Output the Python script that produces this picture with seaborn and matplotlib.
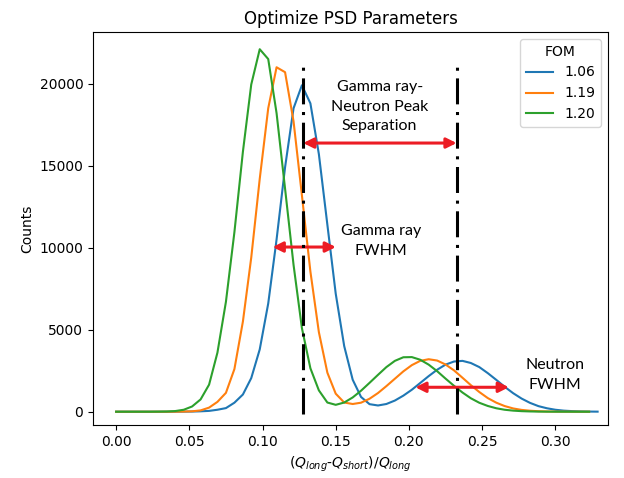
import matplotlib.pyplot as plt
import pandas as pd
import seaborn as sns

# bin positions of the PSD ratio histogram
qratio = [0.0000, 0.0058, 0.0115, 0.0173, 0.0231, 0.0289, 0.0346, 0.0404, 0.0462, 0.0519,
          0.0577, 0.0635, 0.0692, 0.0750, 0.0808, 0.0866, 0.0923, 0.0981, 0.1039, 0.1096,
          0.1154, 0.1212, 0.1269, 0.1327, 0.1385, 0.1443, 0.1500, 0.1558, 0.1616, 0.1673,
          0.1731, 0.1789, 0.1846, 0.1904, 0.1962, 0.2020, 0.2077, 0.2135, 0.2193, 0.2250,
          0.2308, 0.2366, 0.2423, 0.2481, 0.2539, 0.2597, 0.2654, 0.2712, 0.2770, 0.2827,
          0.2885, 0.2943, 0.3000, 0.3058, 0.3116, 0.3174, 0.3231, 0.3289]

fom_labels = ['1.06', '1.19', '1.20']

counts_106 = [0, 0, 0, 0, 0, 0, 0, 0, 5, 10, 25, 50, 120, 220, 550, 1050, 2050, 3800,
              6600, 10500, 14900, 18500, 19900, 18800, 15700, 11400, 7200, 4000,
              1950, 900, 460, 380, 470, 680, 980, 1340, 1750, 2170,
              2560, 2870, 3060, 3100, 2970, 2720, 2350, 1940, 1520, 1130,
              800, 540, 340, 210, 120, 65, 35, 18, 9, 4]
counts_119 = [0, 0, 0, 0, 0, 0, 0, 3, 10, 25, 80, 250, 600, 1150, 2600, 5500, 9400,
              14200, 18500, 21000, 20700, 17700, 13200, 8550, 4850, 2380, 1100, 560,
              470, 550, 790, 1140, 1560, 2010, 2460, 2840, 3100, 3200, 3120, 2880,
              2520, 2070, 1620, 1200, 830, 550, 345, 200, 110, 60, 30, 14, 6, 3, 1, 0, 0]
counts_120 = [0, 0, 0, 0, 0, 5, 12, 40, 120, 320, 750, 1650, 3600, 6700, 10950, 15850,
              19950, 22100, 21500, 18200, 13600, 8950, 5100, 2650, 1300, 560, 420, 560,
              870, 1280, 1760, 2250, 2720, 3100, 3320, 3330, 3170, 2870, 2470, 2020,
              1580, 1170, 820, 545, 350, 210, 120, 66, 34, 17, 8, 4, 2, 1, 0, 0, 0]

# peak positions marked on the plot
peak_gamma = 0.1276
peak_neutron = 0.2328

frames = []
for fom, counts in zip(fom_labels, [counts_106, counts_119, counts_120]):
    frames.append(pd.DataFrame({'q': qratio[:len(counts)], 'Counts': counts, 'FOM': fom}))
df = pd.concat(frames, ignore_index=True)

fig, ax = plt.subplots(figsize=(6.24, 4.78), dpi=100)
fig.subplots_adjust(left=93 / 624, right=608 / 624, top=1 - 32 / 478, bottom=1 - 425 / 478)

sns.lineplot(data=df, x='q', y='Counts', hue='FOM', estimator=None, linewidth=1.5, ax=ax)

# dash-dot markers at the two peaks
ax.vlines([peak_gamma, peak_neutron], -150, 21250, colors='black',
          linestyles=[(0, (8.5, 2.5, 1, 2.5))], linewidth=2.2, zorder=5)

red = '#ec1c24'
arrow_kw = dict(arrowstyle='<|-|>', color=red, lw=2.2, mutation_scale=15, shrinkA=0, shrinkB=0)
ax.annotate('', xy=(0.1278, 16380), xytext=(0.2326, 16380), arrowprops=arrow_kw, zorder=4)
ax.annotate('', xy=(0.1069, 10040), xytext=(0.1501, 10040), arrowprops=arrow_kw, zorder=4)
ax.annotate('', xy=(0.2044, 1490), xytext=(0.2683, 1490), arrowprops=arrow_kw, zorder=4)

txt = dict(family='Lato', fontsize=11.5, ha='center', va='center', linespacing=1.5)
ax.text(0.180, 18580, 'Gamma ray-\nNeutron Peak\nSeparation', **txt)
ax.text(0.1808, 10410, 'Gamma ray\nFWHM', **txt)
ax.text(0.300, 2240, 'Neutron\nFWHM', **txt)

ax.legend(title='FOM', loc='upper right')
ax.set_xlim(-0.0158, 0.336)
ax.set_ylim(-810, 23150)
ax.set_xticks([0.00, 0.05, 0.10, 0.15, 0.20, 0.25, 0.30])
ax.set_xlabel(r'$(Q_{long}$-$Q_{short})/Q_{long}$')
ax.set_ylabel('Counts')
ax.set_title('Optimize PSD Parameters')

fig.savefig('out.png', dpi=100)
